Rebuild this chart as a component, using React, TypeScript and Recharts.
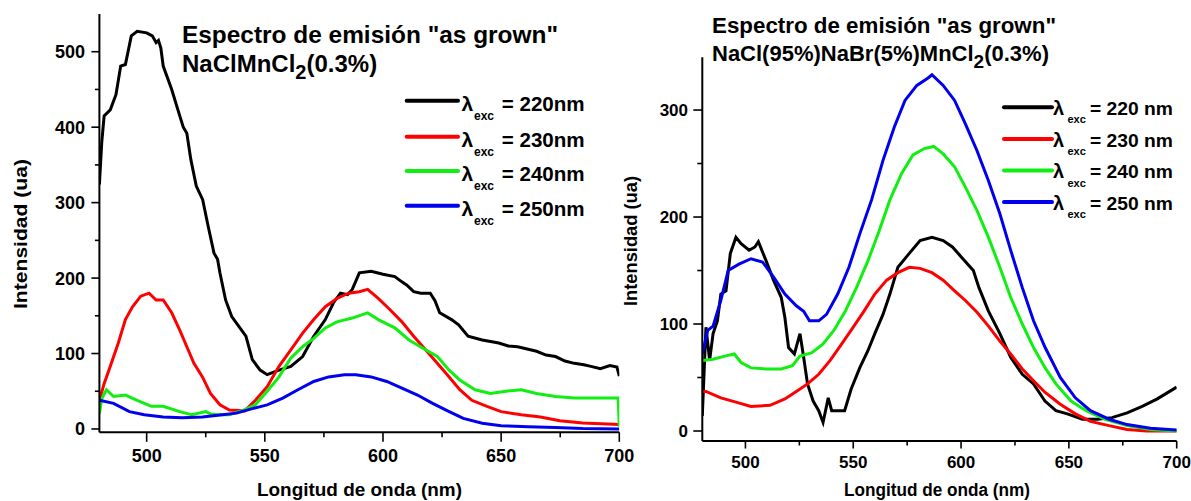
import React from "react";
import { LineChart, Line, XAxis, YAxis, Legend } from "recharts";

type Pt = [number, number];

// ---- Left panel: NaClMnCl2(0.3%) ----
const leftX220: Pt[] = [[480,324],[481,380],[482,415],[484.6,423],[487,443],[488,462],[489,481],[491,483],[493.5,521],[496,527],[500,525],[502.4,521],[504,512],[505,515],[506,505],[507,481],[510.6,450],[514,415],[515.5,400],[517,392],[518.7,357],[521,322],[523.7,304],[526,269],[528.5,233],[530,225],[531,207],[533.4,171],[536,149],[539,136],[542,123],[544.7,92],[548,78],[551,72],[556,78],[561,83],[566,96],[570.7,123],[575.6,145],[579,167],[582,180],[585,178],[587,185],[590,207],[595,209],[600,205],[605,202],[608,195],[610,191],[613,182],[616,180],[620,180],[622,170],[624,154],[629,145],[632,138],[636,123],[642,118],[649,114],[653,110],[657,109],[661,106],[665,103],[669,98],[673,96],[677,90],[681,87],[685,85],[688,83],[692,80],[696,84],[699,82],[700,70]];
const leftX230: Pt[] = [[480,38],[482,60],[484.6,83],[488,114],[491,145],[494,162],[497.5,176],[501,180],[504,171],[507,171],[510.6,154],[514,131],[517,109],[520,87],[523.6,69],[527,47],[531,32],[535,25],[541.5,24],[546,38],[551,56],[556,83],[561,105],[566,127],[570.7,145],[575.6,162],[580.5,173],[585.4,180],[590,182],[593.5,185],[598,173],[603,158],[608,142],[613,123],[618,105],[623,87],[628,69],[632.5,52],[637.6,38],[644,30],[650,23],[658.5,19],[666.6,16],[674.8,11],[684.5,8],[700,6]];
const leftX240: Pt[] = [[480,20],[481,40],[483,52],[486,43],[491,45],[496,38],[502,30],[507,30],[514,23],[519,19],[525,23],[527,20],[530,19],[535,19],[541,25],[546,32],[551,50],[556,69],[561,94],[566,109],[570.7,120],[575.6,134],[580.5,142],[587,147],[593.5,154],[598,145],[605,134],[611,118],[618,105],[623,96],[628,78],[632.5,65],[639,52],[645.5,47],[652,50],[658.5,52],[665,47],[673,43],[681,41],[691,41],[699.5,41],[700,3]];
const leftX250: Pt[] = [[480,38],[486,34],[492.7,23],[499,19],[507,16],[515,15],[523.6,16],[532,19],[538,21],[544.7,27],[551,32],[557.6,41],[564,52],[570.7,63],[577,69],[583.7,72],[588.5,72],[595,69],[601.6,63],[608,54],[614.6,45],[621,34],[628,23],[634,14],[642,7.5],[650,4.4],[661.5,3],[673,2],[684.5,0.5],[700,0]];

// ---- Right panel: NaCl(95%)NaBr(5%)MnCl2(0.3%) ----
const rightX220: Pt[] = [[480,14],[481.7,97],[483.4,66],[485,91],[487,103],[488.6,128],[491,131],[493,166],[495.6,181],[498,175],[501.7,169],[504.4,172],[506,177],[509.6,159],[513,141],[516.6,125],[518.3,106],[520,78],[522.7,72],[525.3,91],[527,69],[528.8,44],[531.4,28],[534,19],[536,8],[538.4,31],[540,19],[542.8,19],[546,19],[549,39],[553,59],[556.8,75],[560,91],[563.8,109],[567,128],[570.7,153],[576,166],[581,178],[586.5,181],[591.7,178],[596,172],[600.4,162],[605.7,150],[608.3,134],[612.7,112],[618,91],[623,69],[628.4,53],[633.6,44],[638.9,28],[644,19],[649.3,16],[656.3,11],[663.3,11],[670,12.5],[677,17],[684,23],[691,30],[700,41]];
const rightX230: Pt[] = [[480,37],[481.7,37],[488.6,31],[495.6,27],[502.6,23],[511.4,24],[518.3,30],[523.6,37],[528.8,44],[534,53],[539.3,66],[544.5,81],[550,97],[555,112],[560,128],[565.5,141],[570.7,148],[576,153],[581,152],[586.5,148],[591.7,141],[597,131],[602,122],[607.4,111],[612.7,98],[618,84],[623,72],[628.4,58],[633.6,47],[639,36],[646,25],[653,16],[660,9],[668.6,5],[677,1.5],[686,0],[700,0]];
const rightX240: Pt[] = [[480,66],[485,67],[490.4,70],[494.8,72],[498,64],[502.6,59],[509.6,58],[516.6,58],[521.8,61],[525.3,70],[530.6,73],[535.8,81],[541,94],[546.3,112],[551.5,134],[556.8,159],[562,187],[567,216],[572.5,241],[577.7,258],[583,264],[587.3,266],[591.7,259],[597,247],[602,228],[607.4,206],[612.7,181],[618,153],[623,125],[628.4,100],[633.6,78],[639,59],[644,44],[651,28],[658,19],[666.8,11],[677,5],[687.8,1.5],[700,0]];
const rightX250: Pt[] = [[480,72],[482.5,94],[485,98],[488.6,122],[492,150],[497,156],[502.6,161],[507.9,158],[513,144],[518.3,128],[523.6,117],[527,112],[529.7,103],[534,103],[537.6,109],[542.8,128],[548,153],[553,184],[558.5,216],[563.8,253],[569,284],[574,309],[579.5,323],[584.7,330],[586.5,333],[591.7,323],[597,309],[602,287],[607.4,262],[612.7,234],[618,203],[623,169],[628.4,134],[633.6,103],[639,78],[646,50],[653,31],[660,19],[668.6,11],[677,6],[687.8,2.5],[700,1]];

const xMajor = [500, 550, 600, 650, 700];
const xTicks = [500, 525, 550, 575, 600, 625, 650, 675, 700];
const leftYTicks = [0, 50, 100, 150, 200, 250, 300, 350, 400, 450, 500];
const rightYTicks = [0, 50, 100, 150, 200, 250, 300];

const leftLegendLabels = ["= 220nm", "= 230nm", "= 240nm", "= 250nm"];
const rightLegendLabels = ["= 220 nm", "= 230 nm", "= 240 nm", "= 250 nm"];
const colors = ["#000000", "#ff0000", "#11ee11", "#0000ee"];

const FONT = '"Liberation Sans", Arial, Helvetica, sans-serif';

const toRows = (pts: Pt[]) => pts.map(([x, y]) => ({ x, y }));

const makeXTick = (major: number, minor: number, base: number, fs: number) => (props: any) => {
  const { x, y, payload } = props;
  const isMajor = xMajor.includes(payload.value);
  return (
    <g>
      <line x1={x} x2={x} y1={y} y2={y + (isMajor ? major : minor)} stroke="#000" strokeWidth={1.6} />
      {isMajor && (
        <text x={x} y={y + base} textAnchor="middle" fontFamily={FONT} fontWeight="bold" fontSize={fs} fill="#000">
          {payload.value}
        </text>
      )}
    </g>
  );
};

const makeYTick = (major: number, minor: number, gap: number, dy: number, fs: number) => (props: any) => {
  const { x, y, payload } = props;
  const isMajor = payload.value % 100 === 0;
  return (
    <g>
      <line x1={x - (isMajor ? major : minor)} x2={x} y1={y} y2={y} stroke="#000" strokeWidth={1.6} />
      {isMajor && (
        <text x={x - gap} y={y + dy} textAnchor="end" fontFamily={FONT} fontWeight="bold" fontSize={fs} fill="#000">
          {payload.value}
        </text>
      )}
    </g>
  );
};

const makeLegend = (
  labels: string[],
  rows: number[],
  lx1: number,
  lx2: number,
  lamX: number,
  excX: number,
  txtX: number,
  txtLen: number,
  fs: number,
  lamFs: number,
  excFs: number,
  baseDy: number,
  excDy: number,
  w: number,
  h: number
) => () => (
  <svg width={w} height={h} style={{ display: "block", overflow: "visible" }}>
    {labels.map((lab, i) => (
      <g key={lab}>
        <line x1={lx1} x2={lx2} y1={rows[i]} y2={rows[i]} stroke={colors[i]} strokeWidth={4} strokeLinecap="round" />
        <text x={lamX} y={rows[i] + baseDy} fontFamily={FONT} fontWeight="bold" fontSize={lamFs} fill="#000">λ</text>
        <text x={excX} y={rows[i] + baseDy + excDy} fontFamily={FONT} fontWeight="bold" fontSize={excFs} fill="#000">exc</text>
        <text x={txtX} y={rows[i] + baseDy} fontFamily={FONT} fontWeight="bold" fontSize={fs} fill="#000" textLength={txtLen} lengthAdjust="spacingAndGlyphs">{lab}</text>
      </g>
    ))}
  </svg>
);

const LeftLegend = makeLegend(leftLegendLabels, [15.7, 51.7, 86, 120.7], 6.7, 58, 61.5, 74, 101.7, 83, 20, 21, 12, 10, 9, 200, 140);
const RightLegend = makeLegend(rightLegendLabels, [27.3, 59, 90.5, 122], 4, 52, 53, 67.5, 90, 83, 19, 20, 11, 7.5, 8.5, 191, 140);

const series = ["220", "230", "240", "250"];

export default function App() {
  const leftSets = [leftX220, leftX230, leftX240, leftX250];
  const rightSets = [rightX220, rightX230, rightX240, rightX250];
  return (
    <div style={{ position: "absolute", left: 0, top: 0, width: 1191, height: 501, background: "#fff", overflow: "hidden", fontFamily: FONT }}>
      <div style={{ position: "absolute", left: 0, top: 0 }}>
        <LineChart width={645} height={501} margin={{ top: 14, right: 25.7, left: 0, bottom: 0 }}>
          <XAxis
            type="number"
            dataKey="x"
            domain={[480, 700]}
            ticks={xTicks}
            allowDataOverflow
            height={68.7}
            axisLine={{ stroke: "#000", strokeWidth: 2 }}
            tickLine={false}
            tickSize={0}
            tickMargin={0}
            interval={0}
            tick={makeXTick(9.5, 5, 29.4, 18)}
          />
          <YAxis
            type="number"
            domain={[-4.4, 550]}
            ticks={leftYTicks}
            allowDataOverflow
            width={99.4}
            axisLine={{ stroke: "#000", strokeWidth: 2 }}
            tickLine={false}
            tickSize={0}
            tickMargin={0}
            interval={0}
            tick={makeYTick(8, 4.5, 14.4, 6.5, 18)}
          />
          <Legend layout="vertical" align="center" verticalAlign="middle" content={LeftLegend} wrapperStyle={{ left: 400, top: 85, width: 200, height: 140 }} />
          {leftSets.map((s, i) => (
            <Line key={series[i]} name={`λexc = ${series[i]}nm`} data={toRows(s)} dataKey="y" type="linear" stroke={colors[i]} strokeWidth={3} dot={false} isAnimationActive={false} />
          ))}
        </LineChart>
      </div>
      <div style={{ position: "absolute", left: 600, top: 0 }}>
        <LineChart width={591} height={501} margin={{ top: 57.3, right: 14.3, left: 0, bottom: 0 }}>
          <XAxis
            type="number"
            dataKey="x"
            domain={[480, 700]}
            ticks={xTicks}
            allowDataOverflow
            height={60}
            axisLine={{ stroke: "#000", strokeWidth: 2 }}
            tickLine={false}
            tickSize={0}
            tickMargin={0}
            interval={0}
            tick={makeXTick(7.5, 4.5, 27, 17)}
          />
          <YAxis
            type="number"
            domain={[-9.35, 349.3]}
            ticks={rightYTicks}
            allowDataOverflow
            width={102.3}
            axisLine={{ stroke: "#000", strokeWidth: 2 }}
            tickLine={false}
            tickSize={0}
            tickMargin={0}
            interval={0}
            tick={makeYTick(9, 5, 14.3, 6, 17)}
          />
          <Legend layout="vertical" align="center" verticalAlign="middle" content={RightLegend} wrapperStyle={{ left: 400, top: 80, width: 191, height: 140 }} />
          {rightSets.map((s, i) => (
            <Line key={series[i]} name={`λexc = ${series[i]} nm`} data={toRows(s)} dataKey="y" type="linear" stroke={colors[i]} strokeWidth={3} dot={false} isAnimationActive={false} />
          ))}
        </LineChart>
      </div>
      <svg width={1191} height={501} style={{ position: "absolute", left: 0, top: 0, pointerEvents: "none" }}>
        <g fontFamily={FONT} fontWeight="bold" fill="#000">
          <text x={182} y={43} fontSize={24} textLength={376} lengthAdjust="spacingAndGlyphs">Espectro de emisión "as grown"</text>
          <text x={182} y={72} fontSize={24}>
            NaClMnCl<tspan dy={7} fontSize={20}>2</tspan><tspan dy={-7}>(0.3%)</tspan>
          </text>
          <text x={712} y={32.5} fontSize={22} textLength={344} lengthAdjust="spacingAndGlyphs">Espectro de emisión "as grown"</text>
          <text x={712} y={61} fontSize={22}>
            NaCl(95%)NaBr(5%)MnCl<tspan dy={7} fontSize={19}>2</tspan><tspan dy={-7}>(0.3%)</tspan>
          </text>
          <text x={359.5} y={496} fontSize={19} textAnchor="middle" textLength={205} lengthAdjust="spacingAndGlyphs">Longitud de onda (nm)</text>
          <text transform="translate(27,234) rotate(-90)" fontSize={19} textAnchor="middle" textLength={150} lengthAdjust="spacingAndGlyphs">Intensidad (ua)</text>
          <text x={937} y={496} fontSize={18} textAnchor="middle" textLength={186} lengthAdjust="spacingAndGlyphs">Longitud de onda (nm)</text>
          <text transform="translate(637,241) rotate(-90)" fontSize={18} textAnchor="middle" textLength={130} lengthAdjust="spacingAndGlyphs">Intensidad (ua)</text>
        </g>
      </svg>
    </div>
  );
}
